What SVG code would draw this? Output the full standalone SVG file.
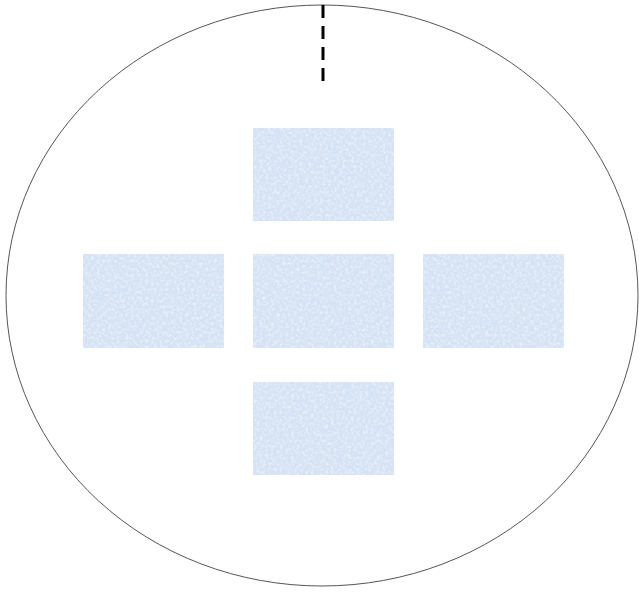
<svg xmlns="http://www.w3.org/2000/svg" width="639" height="592" viewBox="0 0 639 592">
  <style>
    .box { fill: #d4e2f4; }
    .tex { fill: #ffffff; filter: url(#paper); opacity: 0.55; }
  </style>
  <defs>
    <filter id="paper" x="0" y="0" width="100%" height="100%">
      <feTurbulence type="fractalNoise" baseFrequency="0.35" numOctaves="2" seed="3" result="n"/>
      <feColorMatrix in="n" type="matrix" values="0 0 0 0 1  0 0 0 0 1  0 0 0 0 1  0 0 0 -2.2 1.3" result="a"/>
      <feComposite in="a" in2="SourceGraphic" operator="in"/>
    </filter>
  </defs>
  <rect width="639" height="592" fill="#ffffff"/>
  <ellipse cx="322" cy="295.5" rx="316" ry="290.5" fill="none" stroke="#555555" stroke-width="1"/>
  <g id="connectors">
    <line x1="323" y1="5" x2="323" y2="82" stroke="#000000" stroke-width="3" stroke-dasharray="13 8"/>
  </g>
  <g id="node-top"><rect class="box" x="253" y="128" width="141" height="93"/><rect class="tex" x="253" y="128" width="141" height="93"/></g>
  <g id="node-left"><rect class="box" x="83" y="254" width="141" height="94"/><rect class="tex" x="83" y="254" width="141" height="94"/></g>
  <g id="node-center"><rect class="box" x="253" y="254" width="141" height="94"/><rect class="tex" x="253" y="254" width="141" height="94"/></g>
  <g id="node-right"><rect class="box" x="423" y="254" width="141" height="94"/><rect class="tex" x="423" y="254" width="141" height="94"/></g>
  <g id="node-bottom"><rect class="box" x="253" y="382" width="141" height="93"/><rect class="tex" x="253" y="382" width="141" height="93"/></g>
</svg>
